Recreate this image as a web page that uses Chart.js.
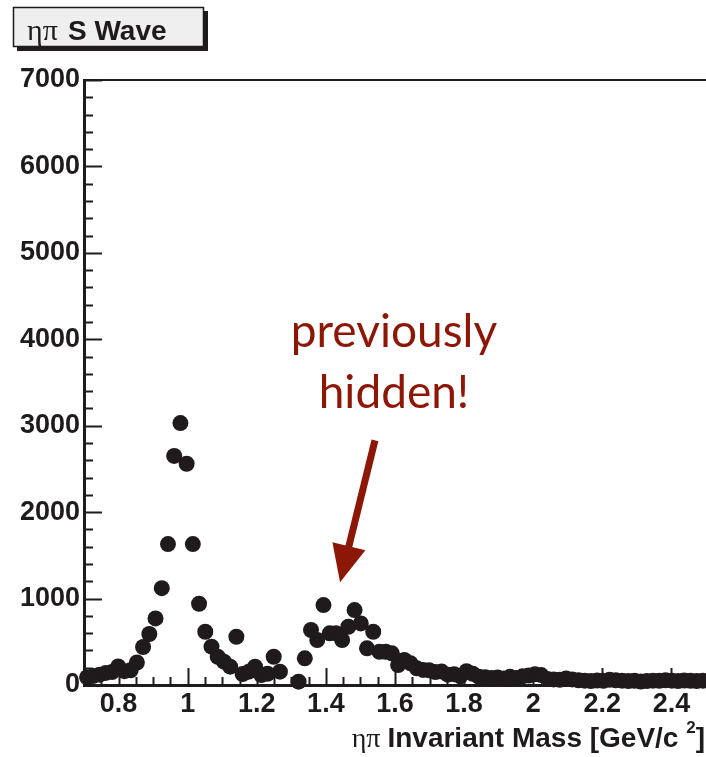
<!DOCTYPE html>
<html>
<head>
<meta charset="utf-8">
<script src="https://cdn.jsdelivr.net/npm/chart.js@4"></script>
<style>
  body { margin: 0; overflow: hidden; background: #fff; }
</style>
</head>
<body>
<canvas id="chart" width="706" height="757"></canvas>
<script>
// bin centres (GeV/c^2), 100 bins 0.7 - 2.5
const mass = [
  0.709, 0.727, 0.745, 0.763, 0.781, 0.799, 0.817, 0.835, 0.853, 0.871,
  0.889, 0.907, 0.925, 0.943, 0.961, 0.979, 0.997, 1.015, 1.033, 1.051,
  1.069, 1.087, 1.105, 1.123, 1.141, 1.159, 1.177, 1.195, 1.213, 1.231,
  1.249, 1.267, 1.285, 1.303, 1.321, 1.339, 1.357, 1.375, 1.393, 1.411,
  1.429, 1.447, 1.465, 1.483, 1.501, 1.519, 1.537, 1.555, 1.573, 1.591,
  1.609, 1.627, 1.645, 1.663, 1.681, 1.699, 1.717, 1.735, 1.753, 1.771,
  1.789, 1.807, 1.825, 1.843, 1.861, 1.879, 1.897, 1.915, 1.933, 1.951,
  1.969, 1.987, 2.005, 2.023, 2.041, 2.059, 2.077, 2.095, 2.113, 2.131,
  2.149, 2.167, 2.185, 2.203, 2.221, 2.239, 2.257, 2.275, 2.293, 2.311,
  2.329, 2.347, 2.365, 2.383, 2.401, 2.419, 2.437, 2.455, 2.473, 2.491
];
// S wave intensity per bin (null = below the axis, not drawn)
const counts = [
  90, 105, 120, 140, 150, 215, 160, 170, 260, 440,
  590, 770, 1120, 1630, 2650, 3030, 2560, 1630, 940, 616,
  443, 327, 270, 212, 558, 127, 154, 212, 116, 130,
  327, 154, null, null, 38, 309, 636, 520, 925, 598,
  598, 520, 674, 867, 713, 424, 616, 385, 385, 366,
  231, 289, 251, 193, 175, 170, 150, 155, 120, 125,
  100, 160, 130, 95, 90, 80, 88, 75, 95, 80,
  100, 110, 125, 115, 70, 65, 60, 75, 65, 55,
  50, 45, 52, 48, 60, 55, 50, 45, 48, 40,
  45, 50, 48, 55, 50, 45, 52, 48, 45, 50
];
const xTickLabels = [0.8, 1, 1.2, 1.4, 1.6, 1.8, 2, 2.2, 2.4];
const yTickLabels = [0, 1000, 2000, 3000, 4000, 5000, 6000, 7000];

const ink = '#1f1b1c';
const red = '#8c1707';

// ROOT style frame: inward ticks, title box, axis title, note
const rootFrame = {
  id: 'rootFrame',
  afterDraw(chart) {
    const { ctx, chartArea: a, scales: { x, y } } = chart;
    ctx.save();
    ctx.strokeStyle = ink;

    // top of frame
    ctx.lineWidth = 2;
    ctx.beginPath();
    ctx.moveTo(a.left, a.top);
    ctx.lineTo(a.right + 2, a.top);
    ctx.stroke();

    // x ticks every 0.05, major every 0.2
    ctx.lineWidth = 2;
    for (let k = 15; k <= 50; k++) {
      const v = k * 0.05;
      const major = k % 4 === 0;
      const px = Math.round(x.getPixelForValue(v)) + 0.5;
      ctx.beginPath();
      ctx.moveTo(px, a.bottom);
      ctx.lineTo(px, a.bottom - (major ? 17 : 8));
      ctx.stroke();
    }
    // y ticks every 200, major every 1000
    for (let k = 1; k <= 35; k++) {
      const v = k * 200;
      const major = k % 5 === 0;
      const py = Math.round(y.getPixelForValue(v)) + 0.5;
      ctx.beginPath();
      ctx.moveTo(a.left, py);
      ctx.lineTo(a.left + (major ? 18 : 9), py);
      ctx.stroke();
    }

    // title box with shadow
    ctx.fillStyle = ink;
    ctx.fillRect(17, 11, 191, 40);
    ctx.fillStyle = '#efefef';
    ctx.fillRect(13, 7, 191, 40);
    ctx.lineWidth = 1.5;
    ctx.strokeRect(13.5, 7.5, 190, 39);
    ctx.fillStyle = ink;
    ctx.textBaseline = 'alphabetic';
    ctx.textAlign = 'left';
    ctx.font = '30px "Liberation Serif"';
    ctx.fillText('ηπ', 27, 40);
    ctx.font = 'bold 28px "Liberation Sans"';
    ctx.fillText('S Wave', 68, 40);

    // x axis title, right aligned
    const parts = [
      ['ηπ ', '28px "Liberation Serif"', 0],
      ['Invariant Mass [GeV/c ', 'bold 28px "Liberation Sans"', 0],
      ['2', 'bold 17px "Liberation Sans"', -14],
      [']', 'bold 28px "Liberation Sans"', 0]
    ];
    let total = 0;
    parts.forEach(p => { ctx.font = p[1]; total += ctx.measureText(p[0]).width; });
    let tx = 705 - total;
    parts.forEach(p => {
      ctx.font = p[1];
      ctx.fillText(p[0], tx, 747 + p[2]);
      tx += ctx.measureText(p[0]).width;
    });

    // note + arrow, anchored in data units
    ctx.fillStyle = red;
    ctx.strokeStyle = red;
    ctx.font = '46px Lato';
    ctx.textAlign = 'center';
    const cx = x.getPixelForValue(1.597);
    ctx.fillText('previously', cx, y.getPixelForValue(3910));
    ctx.fillText('hidden!', cx, y.getPixelForValue(3200));

    const tail = { x: x.getPixelForValue(1.542), y: y.getPixelForValue(2830) };
    const tip = { x: x.getPixelForValue(1.441), y: y.getPixelForValue(1190) };
    const dx = tip.x - tail.x, dy = tip.y - tail.y;
    const len = Math.hypot(dx, dy);
    const ux = dx / len, uy = dy / len;
    const headLen = 37, headHalf = 17;
    const bx = tip.x - ux * headLen, by = tip.y - uy * headLen;
    ctx.lineWidth = 7;
    ctx.beginPath();
    ctx.moveTo(tail.x, tail.y);
    ctx.lineTo(bx + ux * 2, by + uy * 2);
    ctx.stroke();
    ctx.beginPath();
    ctx.moveTo(tip.x, tip.y);
    ctx.lineTo(bx - uy * headHalf, by + ux * headHalf);
    ctx.lineTo(bx + uy * headHalf, by - ux * headHalf);
    ctx.closePath();
    ctx.fill();

    ctx.restore();
  }
};

const ctx = document.getElementById('chart').getContext('2d');
new Chart(ctx, {
  type: 'scatter',
  data: {
    datasets: [{
      data: mass.map((m, i) => ({ x: m, y: counts[i] })),
      backgroundColor: ink,
      borderWidth: 0,
      pointRadius: 8,
      pointHoverRadius: 8,
      clip: false
    }]
  },
  options: {
    responsive: false,
    animation: false,
    devicePixelRatio: 1,
    layout: { autoPadding: false, padding: { top: 80, right: 0, left: 0, bottom: 0 } },
    plugins: {
      legend: { display: false },
      tooltip: { enabled: false }
    },
    scales: {
      x: {
        type: 'linear',
        min: 0.7,
        max: 2.5,
        grid: { display: false, drawTicks: false },
        border: { display: true, color: ink, width: 3 },
        afterBuildTicks: s => { s.ticks = xTickLabels.map(v => ({ value: v })); },
        afterFit: s => { s.height = 72; s.paddingLeft = 0; s.paddingRight = 0; },
        ticks: {
          padding: 3,
          color: ink,
          font: { family: 'Liberation Sans', weight: 'bold', size: 27 },
          maxRotation: 0,
          autoSkip: false,
          callback: v => String(v)
        }
      },
      y: {
        min: 0,
        max: 7000,
        grid: { display: false, drawTicks: false },
        border: { display: true, color: ink, width: 3 },
        afterBuildTicks: s => { s.ticks = yTickLabels.map(v => ({ value: v })); },
        afterFit: s => { s.width = 84; s.paddingTop = 0; s.paddingBottom = 0; },
        ticks: {
          padding: 4,
          color: ink,
          font: { family: 'Liberation Sans', weight: 'bold', size: 27 },
          callback: v => String(v)
        }
      }
    }
  },
  plugins: [rootFrame]
});
</script>
</body>
</html>
